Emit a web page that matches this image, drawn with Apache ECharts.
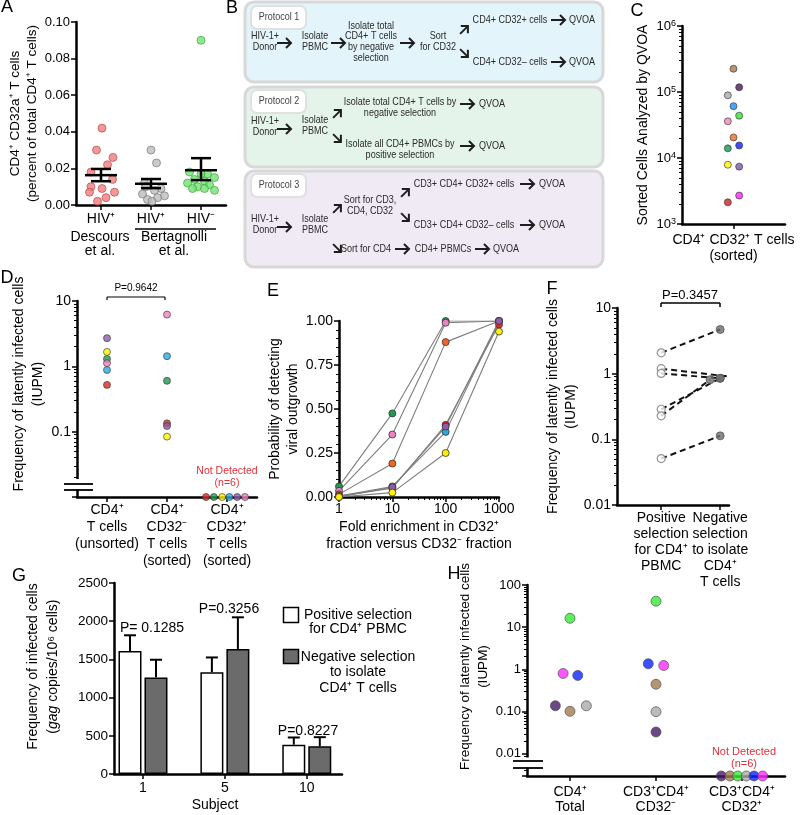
<!DOCTYPE html>
<html>
<head>
<meta charset="utf-8">
<script src="https://cdn.jsdelivr.net/npm/echarts@6/dist/echarts.min.js"></script>
<style>
  html, body { margin: 0; padding: 0; background: #fff; }
  #chart { width: 800px; height: 815px; }
</style>
</head>
<body>
<div id="chart"></div>
<script>
const FONT = "'Liberation Sans', Arial, Helvetica, sans-serif";

// ---- A: CD4+ CD32a+ T cells (% of CD4+) ----
const aLabels = ['HIV⁺', 'HIV⁺', 'HIV⁻'];
const aDescours = [0.042, 0.030, 0.026, 0.022, 0.018, 0.014, 0.010, 0.009, 0.007, 0.007, 0.004, 0.002];
const aBertPos = [0.030, 0.023, 0.012, 0.010, 0.009, 0.008, 0.006, 0.005, 0.004, 0.003, 0.002];
const aBertNeg = [0.090, 0.018, 0.017, 0.017, 0.015, 0.014, 0.013, 0.012, 0.011, 0.010, 0.009, 0.009, 0.008];
const aMean = [0.0163, 0.0116, 0.0190];
const aSemLow = [0.0130, 0.0092, 0.0136];
const aSemHigh = [0.0197, 0.0142, 0.0256];
// horizontal spread of the dots (category units)
const aJitDescours = [0.02, -0.09, 0.24, 0.13, -0.2, 0.23, -0.2, 0.02, -0.23, 0.27, 0.1, -0.07];
const aJitBertPos = [0, 0.11, -0.13, -0.1, 0.2, 0.07, -0.17, 0.27, 0.13, -0.07, 0.02];
const aJitBertNeg = [0, -0.23, 0.13, 0, 0.27, -0.13, 0.07, -0.27, 0.17, -0.07, -0.17, 0.07, 0.27];

// ---- C: sorted cells analysed by QVOA ----
const cCells = [225000, 118000, 89000, 61000, 43800, 36000, 20500, 15500, 14000, 7900, 7400, 2700, 2130];
const cColors = ['#a57a50', '#4a1762', '#a9a9a9', '#1e8ff0', '#33e433', '#ef86c0', '#f26a22', '#1020ff', '#13994a', '#fff200', '#7d55a6', '#ff22ff', '#cc2222'];
const cJitter = [0, 1, -1, 0, 1, -1, 0, 1, -1, -1, 1, 1, -1];

// ---- D: IUPM by sorted fraction ----
const dLabels = ['CD4⁺\nT cells\n(unsorted)', 'CD4⁺\nCD32⁻\nT cells\n(sorted)', 'CD4⁺\nCD32⁺\nT cells\n(sorted)'];
const dColors = ['#d42a2a', '#1e9a50', '#fff200', '#29abe2', '#8e5ca8', '#ee82c2'];
const dUnsorted = [0.52, 1.30, 1.66, 0.88, 2.70, 1.12];
const dCD32neg = [0.134, 0.60, 0.084, 1.43, 0.122, 6.2];
const dNotDetectedJit = [-0.35, -0.22, -0.08, 0.04, 0.17, 0.3];
const dFloor = 0.01;

// ---- E: probability of detecting outgrowth ----
const eFold = [1, 10, 100, 1000];
const eGreen = [0.06, 0.475, 1.0, 1.0];
const ePink = [0.035, 0.355, 0.99, 1.0];
const eOrange = [0.015, 0.19, 0.88, 1.0];
const eBlue = [0.005, 0.06, 0.37, 1.0];
const eRed = [0.005, 0.05, 0.41, 0.98];
const ePurple = [0, 0.055, 0.40, 1.0];
const eYellow = [0, 0.025, 0.25, 0.94];
const eLines = [
  [eGreen, '#1e9a50'], [ePink, '#ee82c2'], [eOrange, '#f26522'], [eBlue, '#29abe2'],
  [eRed, '#ec2427'], [ePurple, '#8e5ca8'], [eYellow, '#fff200']
];

// ---- F: positive vs negative selection (IUPM) ----
const fLabels = ['Positive\nselection\nfor CD4⁺\nPBMC', 'Negative\nselection\nto isolate\nCD4⁺\nT cells'];
const fPositive = [2.08, 1.19, 1.01, 0.287, 0.228, 0.051];
const fNegative = [4.71, 0.90, 0.85, 0.85, 0.81, 0.113];
const fNegJit = [0, 0.17, 0, 0, -0.17, 0];

// ---- G: gag copies per 10^6 cells ----
const gSubjects = ['1', '5', '10'];
const gPositive = [1611, 1333, 385];
const gPositiveTop = [1816, 1526, 479];
const gNegative = [1265, 1637, 363];
const gNegativeTop = [1496, 2051, 483];
const gPText = ['P= 0.1285', 'P=0.3256', 'P=0.8227'];

// ---- H: IUPM, protocol 3 ----
const hLabels = ['CD4⁺\nTotal', 'CD3⁺CD4⁺\nCD32⁻', 'CD3⁺CD4⁺\nCD32⁺'];
const hColors = ['#4a1a68', '#a57b50', '#33ee33', '#aaaaaa', '#0a24ff', '#ff2bff'];
const hTotal = [0.138, 0.102, 16.3, 0.138, 0.72, 0.805];
const hCD32neg = [0.033, 0.445, 41.4, 0.10, 1.36, 1.24];
const hJitTotal = [-0.17, 0, 0, 0.19, 0.09, -0.08];
const hJitNeg = [0, 0, 0, 0, -0.09, 0.09];
const hNotDetectedJit = [-0.24, -0.14, -0.05, 0.05, 0.14, 0.24];
const hFloor = 0.003;

function merge(a, b) {
  const out = Object.assign({}, a);
  for (const k in b) {
    const v = b[k];
    if (v && typeof v === 'object' && !Array.isArray(v) && typeof v !== 'function' && a[k] && typeof a[k] === 'object') {
      out[k] = merge(a[k], v);
    } else {
      out[k] = v;
    }
  }
  return out;
}

function axis(o) {
  return merge({
    nameLocation: 'middle',
    nameTextStyle: { color: '#000', fontSize: 14, fontFamily: FONT, lineHeight: 18 },
    axisLine: { show: true, onZero: false, lineStyle: { color: '#000', width: 2.5 } },
    axisTick: { show: true, length: 5, lineStyle: { color: '#000', width: 1.5 } },
    axisLabel: { color: '#000', fontSize: 13, fontFamily: FONT, margin: 6 },
    splitLine: { show: false }
  }, o);
}

const dot = (color, border) => ({ color: color, borderColor: border || '#333', borderWidth: 0.8 });

function txt(text, x, y, size, extra, props) {
  return Object.assign({
    type: 'text', x: x, y: y, z: 60,
    style: Object.assign({
      text: text, fontSize: size, fontFamily: FONT, fill: '#000',
      align: 'center', verticalAlign: 'middle', lineHeight: size + 1
    }, extra || {})
  }, props || {});
}
function line(x1, y1, x2, y2, w) {
  return { type: 'line', z: 60, shape: { x1: x1, y1: y1, x2: x2, y2: y2 }, style: { stroke: '#000', lineWidth: w || 1.5 } };
}
function logLabel(map) {
  return function (v) {
    const k = Math.round(Math.log10(v));
    return map[k] !== undefined ? map[k] : '';
  };
}

// ---- panel B flow diagram ----
const bInk = '#2b2b2b';
// the figure's flow-chart lettering is narrow, so squeeze it horizontally
const bt = (t, x, y) => txt(t, x, y, 10.5, { fill: bInk, lineHeight: 10.8 }, { scaleX: 0.86 });
// arrow centred on (x, y), pointing at angle deg (0 = right, 45 = up-right, -45 = down-right)
function arr(x, y, deg) {
  const len = deg ? 11 : 14;
  const s = { stroke: '#1e1e1e', lineWidth: 2, fill: null };
  return {
    type: 'group', x: x, y: y, rotation: (deg || 0) * Math.PI / 180,
    children: [
      { type: 'line', z: 62, shape: { x1: -len / 2, y1: 0, x2: len / 2, y2: 0 }, style: s },
      { type: 'polyline', z: 62, shape: { points: [[len / 2 - 5, -5], [len / 2, 0], [len / 2 - 5, 5]] }, style: s }
    ]
  };
}
const box = (y, h, fill) => ({ type: 'rect', z: 40, shape: { x: 245, y: y, width: 358, height: h, r: 9 }, style: { fill: fill, stroke: '#d8d8d8', lineWidth: 3 } });
const tag = (y, t) => [
  { type: 'rect', z: 45, shape: { x: 251, y: y, width: 55, height: 23, r: 6 }, style: { fill: '#fff', stroke: '#e0e0e0', lineWidth: 2 } },
  txt(t, 279, y + 11.5, 10, { fill: '#444' }, { scaleX: 0.9 })
];
const graphicB = [].concat(
  [box(2, 80, '#e3f4fb'), box(87, 80, '#e4f4ea'), box(171, 96, '#efeaf3')],
  tag(6, 'Protocol 1'), tag(90, 'Protocol 2'), tag(174, 'Protocol 3'),
  [
    bt('HIV-1+\nDonor', 265, 41.5), arr(284, 43), bt('Isolate\nPBMC', 315, 41.5), arr(338, 43),
    bt('Isolate total\nCD4+ T cells\nby negative\nselection', 371, 42), arr(407, 43),
    bt('Sort\nfor CD32', 438, 41.5), arr(464, 30, 45), arr(464, 53, -45),
    bt('CD4+ CD32+ cells', 510, 20), arr(558, 20), bt('QVOA', 582, 20),
    bt('CD4+ CD32– cells', 510, 62), arr(558, 62), bt('QVOA', 582, 62),

    bt('HIV-1+\nDonor', 265, 127), arr(284, 129), bt('Isolate\nPBMC', 315, 126),
    arr(337, 114, 45), arr(337, 138, -45),
    bt('Isolate total CD4+ T cells by\nnegative selection', 400, 108), arr(467, 104), bt('QVOA', 492, 104),
    bt('Isolate all CD4+ PBMCs by\npositive selection', 400, 150), arr(467, 146), bt('QVOA', 492, 146),

    bt('HIV-1+\nDonor', 265, 225), arr(284, 227), bt('Isolate\nPBMC', 315, 225),
    arr(337, 209, 45), arr(337, 248, -45),
    bt('Sort for CD3,\nCD4, CD32', 370, 205.5), arr(405, 193, 45), arr(405, 217, -45),
    bt('CD3+ CD4+ CD32+ cells', 464, 184), arr(527, 184), bt('QVOA', 552, 184),
    bt('CD3+ CD4+ CD32– cells', 464, 225), arr(527, 225), bt('QVOA', 552, 225),
    bt('Sort for CD4', 366, 249), arr(402, 249), bt('CD4+ PBMCs', 443, 249), arr(482, 249), bt('QVOA', 506, 249)
  ]
);

const letters = [
  ['A', 7, 7], ['B', 232, 8], ['C', 637, 11], ['D', 7, 278],
  ['E', 273, 291], ['F', 552, 289], ['G', 19, 576], ['H', 454, 574]
].map(l => txt(l[0], l[1], l[2], 18));

const annotations = [
  // A group captions
  txt('Descours\net al.', 100, 244.5, 14, { lineHeight: 14 }),
  line(135, 229, 216, 229, 1.5),
  txt('Bertagnolli\net al.', 174, 244.5, 14, { lineHeight: 14 }),
  // D
  line(107, 297, 165, 297, 1.2), line(107, 297, 107, 300, 1.2), line(165, 297, 165, 300, 1.2),
  txt('P=0.9642', 136, 288, 10),
  txt('Not Detected\n(n=6)', 227, 477.5, 10.5, { fill: '#e0303a', lineHeight: 12 }),
  { type: 'rect', z: 55, shape: { x: 69, y: 479, width: 15, height: 10.5 }, style: { fill: '#fff' } },
  line(64, 484, 93, 484, 1.8), line(64, 490, 93, 490, 1.8),
  // F
  line(661, 303, 720, 303, 1.5), line(661, 303, 661, 307, 1.5), line(720, 303, 720, 307, 1.5),
  txt('P=0.3457', 690, 295, 13),
  // G
  txt(gPText[0], 152, 628, 14), txt(gPText[1], 229, 609, 14), txt(gPText[2], 308, 731, 14),
  { type: 'rect', z: 60, shape: { x: 283.5, y: 607.5, width: 15, height: 15 }, style: { fill: '#fff', stroke: '#000', lineWidth: 1.5 } },
  { type: 'rect', z: 60, shape: { x: 283.5, y: 649.5, width: 15, height: 14 }, style: { fill: '#6b6b6b', stroke: '#000', lineWidth: 1.5 } },
  txt('Positive selection\nfor CD4⁺ PBMC', 358, 622, 14, { lineHeight: 14.5 }),
  txt('Negative selection\nto isolate\nCD4⁺ T cells', 358, 672.5, 14, { lineHeight: 15.5 }),
  // H
  txt('Not Detected\n(n=6)', 744, 758, 11, { fill: '#e0303a', lineHeight: 12.5 }),
  { type: 'rect', z: 55, shape: { x: 519, y: 757.5, width: 15, height: 10 }, style: { fill: '#fff' } },
  line(513, 761, 543, 761, 1.8), line(513, 768, 543, 768, 1.8)
];

// ---- series ----
const series = [];

// A
[[aDescours, aJitDescours, '#f47c7c', '#a84545', 0],
 [aBertPos, aJitBertPos, '#bdbdbd', '#6e6e6e', 1],
 [aBertNeg, aJitBertNeg, '#72e272', '#3a9a3a', 2]].forEach(g => {
  series.push({
    type: 'scatter', xAxisIndex: 0, yAxisIndex: 0, symbolSize: 8,
    itemStyle: dot(g[2], g[3]),
    data: g[0].map((v, i) => [g[4] + g[1][i], v])
  });
});
series.push({
  type: 'custom', xAxisIndex: 0, yAxisIndex: 0, z: 5,
  encode: { x: 0, y: 1 },
  data: aMean.map((m, i) => [i, m, aSemLow[i], aSemHigh[i]]),
  renderItem: function (params, api) {
    const pm = api.coord([api.value(0), api.value(1)]);
    const pl = api.coord([api.value(0), api.value(2)]);
    const ph = api.coord([api.value(0), api.value(3)]);
    const s = { stroke: '#000', lineWidth: 2.5 };
    return {
      type: 'group', children: [
        { type: 'line', shape: { x1: pm[0] - 16, y1: pm[1], x2: pm[0] + 16, y2: pm[1] }, style: s },
        { type: 'line', shape: { x1: pl[0], y1: pl[1], x2: ph[0], y2: ph[1] }, style: s },
        { type: 'line', shape: { x1: ph[0] - 10, y1: ph[1], x2: ph[0] + 10, y2: ph[1] }, style: s },
        { type: 'line', shape: { x1: pl[0] - 10, y1: pl[1], x2: pl[0] + 10, y2: pl[1] }, style: s }
      ]
    };
  }
});

// C
series.push({
  type: 'scatter', xAxisIndex: 1, yAxisIndex: 1, symbolSize: 7,
  data: cCells.map((v, i) => ({ value: [cJitter[i] * 0.055, v], itemStyle: dot(cColors[i]) }))
});

// D
series.push({
  type: 'scatter', xAxisIndex: 2, yAxisIndex: 2, symbolSize: 7,
  data: [].concat(
    dUnsorted.map((v, i) => ({ value: [0, v], itemStyle: dot(dColors[i]) })),
    dCD32neg.map((v, i) => ({ value: [1, v], itemStyle: dot(dColors[i]) })),
    dColors.map((c, i) => ({ value: [2 + dNotDetectedJit[i], dFloor], itemStyle: dot(c) }))
  )
});

// E
eLines.forEach(l => {
  series.push({
    type: 'line', xAxisIndex: 3, yAxisIndex: 3, symbol: 'circle', symbolSize: 7,
    lineStyle: { color: '#7d7d7d', width: 1.1 },
    itemStyle: dot(l[1]),
    data: eFold.map((f, i) => [f, l[0][i]])
  });
});

// F
fPositive.forEach((p, i) => {
  series.push({
    type: 'line', xAxisIndex: 4, yAxisIndex: 4, showSymbol: false,
    lineStyle: { color: '#111', width: 2, type: [6, 4] },
    data: [[1, p], [2 + fNegJit[i], fNegative[i]]]
  });
});
series.push({
  type: 'scatter', xAxisIndex: 4, yAxisIndex: 4, symbolSize: 8, z: 4,
  itemStyle: { color: '#fff', borderColor: '#7a7a7a', borderWidth: 1.2 },
  data: fPositive.map(v => [1, v])
});
series.push({
  type: 'scatter', xAxisIndex: 4, yAxisIndex: 4, symbolSize: 8, z: 4,
  itemStyle: { color: '#6e6e6e', borderColor: '#555', borderWidth: 1 },
  data: fNegative.map((v, i) => [2 + fNegJit[i], v])
});

// G
series.push({
  type: 'bar', name: 'Positive selection', xAxisIndex: 5, yAxisIndex: 5, barWidth: 23, barGap: '13%',
  itemStyle: { color: '#fff', borderColor: '#000', borderWidth: 1.5 },
  data: gPositive.map((v, i) => [i + 1, v])
});
series.push({
  type: 'bar', name: 'Negative selection', xAxisIndex: 5, yAxisIndex: 5, barWidth: 23, barGap: '13%',
  itemStyle: { color: '#6b6b6b', borderColor: '#000', borderWidth: 1.5 },
  data: gNegative.map((v, i) => [i + 1, v])
});
series.push({
  type: 'custom', xAxisIndex: 5, yAxisIndex: 5, z: 5,
  encode: { x: 0, y: 2 },
  data: [].concat(
    gPositive.map((v, i) => [i + 1, v, gPositiveTop[i], -1]),
    gNegative.map((v, i) => [i + 1, v, gNegativeTop[i], 1])
  ),
  renderItem: function (params, api) {
    const b = api.coord([api.value(0), api.value(1)]);
    const t = api.coord([api.value(0), api.value(2)]);
    const x = b[0] + api.value(3) * 13;
    const s = { stroke: '#000', lineWidth: 2 };
    return {
      type: 'group', children: [
        { type: 'line', shape: { x1: x, y1: b[1], x2: x, y2: t[1] }, style: s },
        { type: 'line', shape: { x1: x - 6, y1: t[1], x2: x + 6, y2: t[1] }, style: s }
      ]
    };
  }
});

// H
series.push({
  type: 'scatter', xAxisIndex: 6, yAxisIndex: 6, symbolSize: 10,
  data: [].concat(
    hTotal.map((v, i) => ({ value: [hJitTotal[i], v], itemStyle: dot(hColors[i], '#444') })),
    hCD32neg.map((v, i) => ({ value: [1 + hJitNeg[i], v], itemStyle: dot(hColors[i], '#444') })),
    hColors.map((c, i) => ({ value: [2 + hNotDetectedJit[i], hFloor], itemStyle: dot(c, '#444') }))
  )
});

const minor9 = { show: true, splitNumber: 9, length: 3, lineStyle: { color: '#000', width: 1 } };

const option = {
  animation: false,
  textStyle: { fontFamily: FONT },
  grid: [
    { left: 76, top: 22, width: 150, height: 183, containLabel: false },
    { left: 682, top: 26, width: 103, height: 198, containLabel: false },
    { left: 77, top: 301, width: 180, height: 196, containLabel: false },
    { left: 339, top: 321, width: 160, height: 176, containLabel: false },
    { left: 617, top: 308, width: 112, height: 197, containLabel: false },
    { left: 114, top: 583, width: 228, height: 195, containLabel: false },
    { left: 527, top: 585, width: 258, height: 193, containLabel: false }
  ],
  xAxis: [
    axis({ gridIndex: 0, type: 'value', min: -0.5, max: 2.5,
      axisTick: { customValues: [0, 1, 2] },
      axisLabel: { customValues: [0, 1, 2], fontSize: 14, margin: 7, formatter: v => aLabels[v] } }),
    axis({ gridIndex: 1, type: 'value', min: -0.5, max: 0.5,
      axisTick: { customValues: [0] },
      axisLabel: { customValues: [0], fontSize: 14, lineHeight: 16, margin: 8, formatter: () => 'CD4⁺ CD32⁺ T cells\n(sorted)' } }),
    axis({ gridIndex: 2, type: 'value', min: -0.5, max: 2.5,
      axisTick: { customValues: [0, 1, 2] },
      axisLabel: { customValues: [0, 1, 2], fontSize: 14, lineHeight: 17, margin: 5, formatter: v => dLabels[v] } }),
    axis({ gridIndex: 3, type: 'log', logBase: 10, min: 1, max: 1000,
      name: 'Fold enrichment in CD32⁺\nfraction versus CD32⁻ fraction', nameGap: 22,
      nameTextStyle: { lineHeight: 17 },
      minorTick: minor9,
      axisLabel: { fontSize: 14, margin: 5, formatter: v => String(Math.round(v)) } }),
    axis({ gridIndex: 4, type: 'value', min: 0.25, max: 2.15,
      axisTick: { customValues: [1, 2] },
      axisLabel: { customValues: [1, 2], fontSize: 14, lineHeight: 16, margin: 5, formatter: v => fLabels[v - 1] } }),
    axis({ gridIndex: 5, type: 'value', min: 0.646, max: 3.43,
      name: 'Subject', nameGap: 20, nameTextStyle: { padding: [0, 26, 0, 0] },
      axisTick: { customValues: [1, 2, 3] },
      axisLabel: { customValues: [1, 2, 3], fontSize: 14, margin: 7, formatter: v => gSubjects[v - 1] } }),
    axis({ gridIndex: 6, type: 'value', min: -0.5, max: 2.5,
      axisTick: { customValues: [0, 1, 2] },
      axisLabel: { customValues: [0, 1, 2], fontSize: 14, lineHeight: 15, margin: 9, formatter: v => hLabels[v] } })
  ],
  yAxis: [
    axis({ gridIndex: 0, type: 'value', min: 0, max: 0.1, interval: 0.02,
      name: 'CD4⁺ CD32a⁺ T cells\n(percent of total CD4⁺ T cells)', nameGap: 32,
      nameTextStyle: { fontSize: 13.5, lineHeight: 17 },
      axisLabel: { formatter: v => v.toFixed(2) } }),
    axis({ gridIndex: 1, type: 'log', logBase: 10, min: 1000, max: 1000000,
      name: 'Sorted Cells Analyzed by QVOA', nameGap: 23,
      minorTick: minor9,
      axisLabel: {
        formatter: v => '10{s|' + Math.round(Math.log10(v)) + '}',
        rich: { s: { fontSize: 9, verticalAlign: 'top', fontFamily: FONT, color: '#000' } }
      } }),
    axis({ gridIndex: 2, type: 'log', logBase: 10, min: 0.01, max: 10,
      name: 'Frequency of latently infected cells\n(IUPM)', nameGap: 26,
      nameTextStyle: { lineHeight: 19, padding: [0, 0, 0, 30] },
      minorTick: minor9,
      axisLabel: { fontSize: 14, showMinLabel: false, formatter: logLabel({ 1: '10', 0: '1', '-1': '0.1' }) } }),
    axis({ gridIndex: 3, type: 'value', min: 0, max: 1, interval: 0.25,
      name: 'Probability of detecting\nviral outgrowth', nameGap: 27,
      minorTick: { show: true, splitNumber: 5, length: 3, lineStyle: { color: '#000', width: 1 } },
      axisLabel: { fontSize: 14, formatter: v => v.toFixed(2) } }),
    axis({ gridIndex: 4, type: 'log', logBase: 10, min: 0.01, max: 10,
      name: 'Frequency of latently infected cells\n(IUPM)', nameGap: 20,
      minorTick: minor9,
      axisLabel: { fontSize: 14, formatter: logLabel({ 1: '10', 0: '1', '-1': '0.1', '-2': '0.01' }) } }),
    axis({ gridIndex: 5, type: 'value', min: 0, max: 2500, interval: 500,
      name: 'Frequency of infected cells\n({i|gag} copies/10⁶ cells)', nameGap: 51,
      nameTextStyle: { lineHeight: 20, padding: [0, 0, 0, 24],
        rich: { i: { fontStyle: 'italic', fontSize: 14, fontFamily: FONT, color: '#000' } } },
      axisLabel: { fontSize: 13.5, formatter: v => String(v) } }),
    axis({ gridIndex: 6, type: 'log', logBase: 10, min: hFloor, max: 100, splitNumber: 5,
      name: 'Frequency of latently infected cells\n(IUPM)', nameGap: 28,
      nameTextStyle: { fontSize: 13.5, lineHeight: 18, padding: [0, 0, 0, 28] },
      minorTick: minor9,
      axisLabel: { fontSize: 13, showMinLabel: false,
        formatter: logLabel({ 2: '100', 1: '10', 0: '1', '-1': '0.10', '-2': '0.01' }) } })
  ],
  series: series,
  graphic: [].concat(graphicB, letters, annotations)
};

const chart = echarts.init(document.getElementById('chart'), null, { renderer: 'canvas' });
chart.setOption(option);
</script>
</body>
</html>
